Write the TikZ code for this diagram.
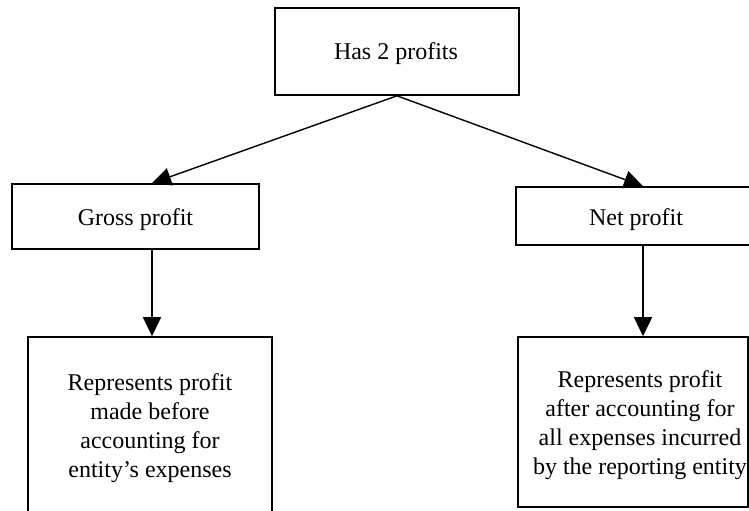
\documentclass[tikz,border=0pt]{standalone}
\usepackage{fontspec}
\setmainfont{Liberation Serif}
\usetikzlibrary{arrows.meta}
\begin{document}
\begin{tikzpicture}[x=0.5pt,y=-0.5pt,
  box/.style={draw, line width=0.8pt, inner sep=0pt},
  txt/.style={inner sep=0pt, align=center, font=\fontsize{12pt}{14.5pt}\selectfont},
  arr/.style={line width=0.7pt, -{Triangle[length=9.5pt,width=9pt]}}]
\useasboundingbox (0,0) rectangle (749,510);
\node[box, minimum width=122pt, minimum height=43.5pt] (top) at (397,51.5) {};
\node[txt] (toptxt) at (396,53.5) {Has 2 profits};
\node[box, minimum width=123.5pt, minimum height=32.5pt] (gross) at (135.5,216.5) {};
\node[txt] (grosstxt) at (135.5,219.5) {Gross profit};
\node[box, minimum width=121pt, minimum height=29pt] (net) at (637,216) {};
\node[txt] (nettxt) at (636,219.5) {Net profit};
\node[box, minimum width=122pt, minimum height=88pt] (bl) at (150,425) {};
\node[txt] (bltxt) at (150,428) {Represents profit\\made before\\accounting for\\entity’s expenses};
\node[box, minimum width=115pt, minimum height=85pt] (br) at (633,422) {};
\node[txt] (brtxt) at (640,425.5) {Represents profit\\after accounting for\\all expenses incurred\\by the reporting entity};
\draw[arr] (top.south) -- ([xshift=8.25pt]gross.north);
\draw[arr] (top.south) -- ([xshift=3pt]net.north);
\draw[arr] ([xshift=8.25pt]gross.south) -- ([xshift=8.25pt]gross.south |- bl.north);
\draw[arr] ([xshift=3pt]net.south) -- ([xshift=3pt]net.south |- br.north);
\end{tikzpicture}
\end{document}
